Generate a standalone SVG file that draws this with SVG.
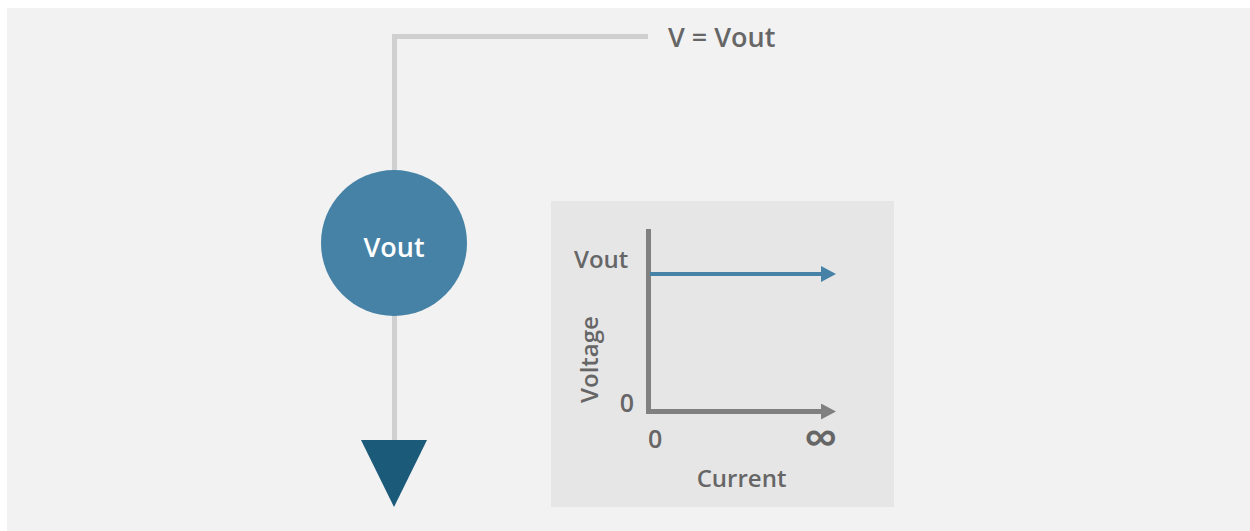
<svg xmlns="http://www.w3.org/2000/svg" width="1250" height="531" viewBox="0 0 1250 531">
<defs>
<style>
.t{font-family:"Open Sans","Liberation Sans",sans-serif;font-weight:600;fill:#666666}
.wire{stroke:#d0d0d0;stroke-width:5;fill:none}
.axis{stroke:#808080;stroke-width:5;fill:none}
</style>
<marker id="ga" markerUnits="userSpaceOnUse" markerWidth="15" markerHeight="16" refX="0" refY="8" orient="auto"><path d="M0,0 L15,8 L0,16 Z" fill="#808080"/></marker>
<marker id="ba" markerUnits="userSpaceOnUse" markerWidth="15" markerHeight="16" refX="0" refY="8" orient="auto"><path d="M0,0 L15,8 L0,16 Z" fill="#4682a6"/></marker>
</defs>
<rect x="0" y="0" width="1250" height="531" fill="#ffffff"/>
<rect x="7" y="8" width="1243" height="523" fill="#f2f2f2"/>
<g id="connectors">
<path class="wire" d="M648,36.5 H394.5 V442"/>
</g>
<g id="label-v">
<text class="t" x="668" y="46.5" font-size="27">V = Vout</text>
</g>
<g id="source">
<circle cx="394" cy="243" r="73" fill="#4682a6"/>
<text class="t" x="394" y="256.5" font-size="27" text-anchor="middle" style="fill:#ffffff">Vout</text>
</g>
<g id="ground">
<polygon points="361,440 427,440 394,507" fill="#1c5a7a"/>
</g>
<g id="chart">
<rect x="551" y="201" width="343" height="306" fill="#e6e6e6"/>
<path class="axis" d="M648.5,229 V414 M646,411.5 H821" marker-end="url(#ga)"/>
<path d="M650,274 H821" stroke="#4682a6" stroke-width="4" fill="none" marker-end="url(#ba)"/>
<text class="t" x="574" y="267.5" font-size="24">Vout</text>
<text class="t" x="634" y="412" font-size="25" text-anchor="end">0</text>
<text class="t" x="648" y="448" font-size="25">0</text>
<text class="t" x="837.5" y="455" font-size="48" text-anchor="end">∞</text>
<text class="t" x="741.5" y="486.5" font-size="24" text-anchor="middle">Current</text>
<text class="t" font-size="24" text-anchor="middle" transform="translate(598,359.5) rotate(-90)">Voltage</text>
</g>
</svg>
